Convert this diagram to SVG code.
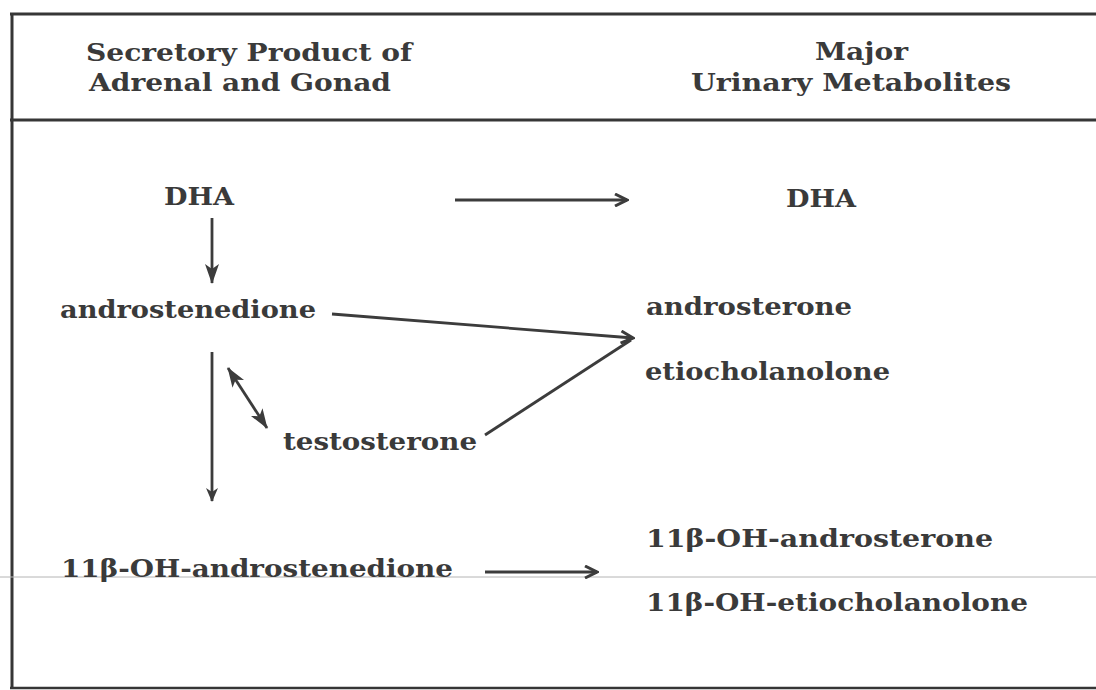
<svg xmlns="http://www.w3.org/2000/svg" width="1096" height="690" viewBox="0 0 1096 690">
  <style>
    .t { font-family: "DejaVu Serif", "Liberation Serif", serif; font-weight: bold; font-size: 24px; fill: #3a3a3a; }
    .frame { stroke: #363636; fill: none; }
    .conn { stroke: #3c3c3c; stroke-width: 2.8; fill: none; }
  </style>
  <defs>
    <marker id="ahf" viewBox="0 0 20 14" refX="19" refY="7" markerWidth="20" markerHeight="14" markerUnits="userSpaceOnUse" orient="auto-start-reverse">
      <path d="M0,0 L20,7 L0,14 L5,7 z" fill="#3c3c3c"/>
    </marker>
    <marker id="ahs" viewBox="0 0 14 12" refX="13" refY="6" markerWidth="14" markerHeight="12" markerUnits="userSpaceOnUse" orient="auto-start-reverse">
      <path d="M0,0 L14,6 L0,12 L4,6 z" fill="#3c3c3c"/>
    </marker>
    <marker id="ahc" viewBox="0 0 16 14" refX="14" refY="7" markerWidth="16" markerHeight="14" markerUnits="userSpaceOnUse" orient="auto">
      <path d="M2,1 L14,7 L2,13" fill="none" stroke="#3c3c3c" stroke-width="3" stroke-linejoin="miter"/>
    </marker>
  </defs>
  <rect width="1096" height="690" fill="#ffffff"/>
  <g id="frame">
    <line class="frame" x1="10" y1="14" x2="1096" y2="14" stroke-width="3"/>
    <line class="frame" x1="10" y1="120" x2="1096" y2="120" stroke-width="3"/>
    <line class="frame" x1="12" y1="13" x2="12" y2="689" stroke-width="3"/>
    <line class="frame" x1="10" y1="688" x2="1096" y2="688" stroke-width="2.5"/>
    <line x1="0" y1="577" x2="1096" y2="577" stroke="#b4b4b4" stroke-width="1"/>
  </g>
  <g id="header-left">
    <text class="t" x="86" y="61" textLength="326" lengthAdjust="spacingAndGlyphs">Secretory Product of</text>
    <text class="t" x="89" y="91" textLength="302" lengthAdjust="spacingAndGlyphs">Adrenal and Gonad</text>
  </g>
  <g id="header-right">
    <text class="t" x="815" y="60" textLength="93" lengthAdjust="spacingAndGlyphs">Major</text>
    <text class="t" x="691" y="91" textLength="320" lengthAdjust="spacingAndGlyphs">Urinary Metabolites</text>
  </g>
  <g id="dha-left"><text class="t" x="164" y="205" textLength="70" lengthAdjust="spacingAndGlyphs">DHA</text></g>
  <g id="androstenedione"><text class="t" x="60" y="318" textLength="256" lengthAdjust="spacingAndGlyphs">androstenedione</text></g>
  <g id="testosterone"><text class="t" x="283" y="450" textLength="194" lengthAdjust="spacingAndGlyphs">testosterone</text></g>
  <g id="oh-androstenedione"><text class="t" x="61" y="577" textLength="392" lengthAdjust="spacingAndGlyphs">11β-OH-androstenedione</text></g>
  <g id="dha-right"><text class="t" x="786" y="207" textLength="70" lengthAdjust="spacingAndGlyphs">DHA</text></g>
  <g id="androsterone"><text class="t" x="646" y="315" textLength="206" lengthAdjust="spacingAndGlyphs">androsterone</text></g>
  <g id="etiocholanolone"><text class="t" x="645" y="380" textLength="245" lengthAdjust="spacingAndGlyphs">etiocholanolone</text></g>
  <g id="oh-androsterone"><text class="t" x="646" y="547" textLength="347" lengthAdjust="spacingAndGlyphs">11β-OH-androsterone</text></g>
  <g id="oh-etiocholanolone"><text class="t" x="646" y="611" textLength="382" lengthAdjust="spacingAndGlyphs">11β-OH-etiocholanolone</text></g>
  <g id="connectors">
    <line class="conn" x1="455" y1="200" x2="627" y2="200" marker-end="url(#ahc)"/>
    <line class="conn" x1="212" y1="218" x2="212" y2="283" marker-end="url(#ahf)"/>
    <line class="conn" x1="212" y1="352" x2="212" y2="501" stroke-width="2.2" marker-end="url(#ahs)"/>
    <line class="conn" x1="228" y1="368" x2="267" y2="428" marker-start="url(#ahf)" marker-end="url(#ahf)"/>
    <line class="conn" x1="332" y1="314" x2="633" y2="338" marker-end="url(#ahc)"/>
    <line class="conn" x1="485" y1="435" x2="631" y2="340"/>
    <line class="conn" x1="485" y1="572" x2="597" y2="572" marker-end="url(#ahc)"/>
  </g>
</svg>
